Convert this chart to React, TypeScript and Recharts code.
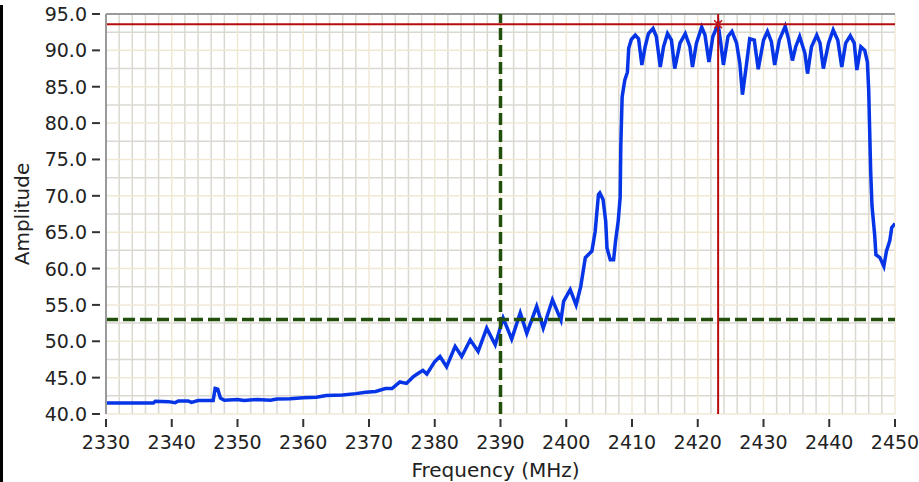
import React from 'react';
import { LineChart, Line, XAxis, YAxis, ReferenceLine, ReferenceDot } from 'recharts';

// Sweep readings: frequency in MHz, amplitude
const freqs = [
  2330, 2337.2, 2337.5, 2339.5, 2340.5, 2341, 2342.5, 2343, 2344, 2346.3,
  2346.6, 2347.0, 2347.4, 2348, 2350, 2351, 2353, 2355, 2356, 2358,
  2360, 2362, 2363.5, 2366, 2368, 2369.5, 2371, 2372.5, 2373.5, 2374.7,
  2375.7, 2376.7, 2377.5, 2378.2, 2378.8, 2380.0, 2380.8, 2381.8, 2383.1, 2384.1,
  2385.4, 2386.6, 2387.9, 2389.2, 2390.4, 2391.7, 2393.0, 2394.0, 2395.5, 2396.5,
  2397.9, 2399.2, 2399.6, 2400.6, 2401.5, 2402.2, 2402.9, 2403.9, 2404.4, 2404.9,
  2405.1, 2405.6, 2406.0, 2406.2, 2406.7, 2407.2, 2407.5, 2407.9, 2408.2, 2408.3,
  2408.5, 2408.9, 2409.3, 2409.5, 2409.9, 2410.5, 2411.0, 2411.5, 2412.0, 2412.5,
  2413.2, 2413.7, 2414.3, 2414.8, 2415.4, 2416.0, 2416.5, 2417.3, 2418.1, 2418.8,
  2419.2, 2419.8, 2420.6, 2421.1, 2421.7, 2422.3, 2423.1, 2423.5, 2423.9, 2424.6,
  2425.2, 2425.9, 2426.4, 2426.8, 2427.4, 2427.9, 2428.6, 2429.2, 2430.0, 2430.6,
  2431.2, 2431.7, 2432.4, 2433.3, 2433.8, 2434.4, 2434.9, 2435.5, 2436.3, 2436.7,
  2437.3, 2438.1, 2438.6, 2439.1, 2439.9, 2440.6, 2441.3, 2441.9, 2442.5, 2443.2,
  2443.8, 2444.2, 2444.8, 2445.4, 2445.8, 2446.0, 2446.3, 2446.5, 2446.9, 2447.1,
  2447.7, 2448.3, 2448.7, 2449.2, 2449.5, 2450.0,
];

const amps = [
  41.5, 41.5, 41.75, 41.7, 41.55, 41.8, 41.8, 41.6, 41.85, 41.85,
  43.5, 43.4, 42.2, 41.9, 42.0, 41.85, 42.0, 41.9, 42.05, 42.1,
  42.25, 42.3, 42.55, 42.6, 42.8, 43.0, 43.1, 43.5, 43.5, 44.4,
  44.2, 45.1, 45.6, 46.0, 45.5, 47.2, 47.9, 46.5, 49.3, 47.9,
  50.2, 48.6, 51.8, 49.5, 53.2, 50.3, 53.9, 51.1, 54.8, 51.8,
  55.7, 52.9, 55.5, 57.1, 55.0, 57.5, 61.5, 62.4, 65.1, 70.2,
  70.4, 69.5, 66.5, 62.8, 61.2, 61.2, 63.8, 66.5, 69.8, 77.0,
  83.6, 85.9, 87.0, 90.3, 91.5, 92.1, 91.6, 88.0, 90.5, 92.3,
  93.0, 91.9, 87.7, 90.5, 92.3, 91.4, 87.5, 91.0, 92.3, 90.5,
  87.7, 91.0, 93.2, 92.1, 88.4, 91.9, 93.6, 91.0, 88.0, 91.9,
  92.6, 91.0, 88.2, 83.9, 88.0, 91.6, 91.4, 87.4, 91.4, 92.6,
  91.2, 88.0, 91.4, 93.3, 91.6, 88.6, 90.5, 91.9, 89.6, 86.8,
  90.5, 92.1, 91.0, 87.5, 91.0, 92.8, 91.4, 87.7, 91.0, 92.0,
  91.0, 87.3, 90.5, 90.0, 88.4, 84.5, 73.4, 68.6, 64.7, 61.9,
  61.5, 60.3, 62.4, 63.8, 65.6, 66.2,
];

const xTicks = [2330, 2340, 2350, 2360, 2370, 2380, 2390, 2400, 2410, 2420, 2430, 2440, 2450];
const yTicks = [40, 45, 50, 55, 60, 65, 70, 75, 80, 85, 90, 95];

// grid: beige on the labelled values, grey in between
const yMinorGrid = [42.5, 47.5, 52.5, 57.5, 62.5, 67.5, 72.5, 77.5, 82.5, 87.5, 92.5];
const xGridAll = Array.from({ length: 61 }, (_, i) => 2330 + i * 2);
const xMinorGrid = xGridAll.filter((f) => f % 10 !== 0);

// cursors
const cursor1 = { freq: 2390, amp: 53.0 };
const cursor2 = { freq: 2423.1, amp: 93.6 };

const data = freqs.map((f, i) => ({ freq: f, amp: amps[i] }));

const FONT = '"DejaVu Sans", Verdana, sans-serif';
const TEXT = '#222';
const GRID_MAJOR = '#efe9d4';
const GRID_MINOR = '#dbd8d1';

const YTick = ({ x, y, payload }: any) => (
  <g>
    <line x1={x - 14} x2={x - 6} y1={y} y2={y} stroke="#333" strokeWidth={2} />
    <text x={x - 19} y={y} textAnchor="end" dominantBaseline="central" fill={TEXT} fontSize={19} fontFamily={FONT}>
      {Number(payload.value).toFixed(1)}
    </text>
  </g>
);

const XTick = ({ x, y, payload }: any) => (
  <g>
    <line x1={x} x2={x} y1={y + 5} y2={y + 13} stroke="#333" strokeWidth={2} />
    <text x={x} y={y + 35} textAnchor="middle" fill={TEXT} fontSize={19} fontFamily={FONT}>
      {payload.value}
    </text>
  </g>
);

const YTitle = ({ viewBox }: any) => {
  const cx = viewBox.x + 22;
  const cy = viewBox.y + viewBox.height / 2;
  return (
    <text x={cx} y={cy} transform={`rotate(-90, ${cx}, ${cy})`} textAnchor="middle" dominantBaseline="central"
      fill={TEXT} fontSize={20} fontFamily={FONT}>
      Amplitude
    </text>
  );
};

const XTitle = ({ viewBox }: any) => (
  <text x={viewBox.x + viewBox.width / 2 - 5} y={viewBox.y + 63} textAnchor="middle" fill={TEXT} fontSize={20} fontFamily={FONT}>
    Frequency (MHz)
  </text>
);

const CrossMark = ({ cx, cy }: any) => (
  <path d={`M${cx - 4},${cy - 4}L${cx + 4},${cy + 4}M${cx + 4},${cy - 4}L${cx - 4},${cy + 4}`} stroke="#c01818" strokeWidth={1.5} fill="none" />
);

export default function App() {
  return (
    <div style={{ position: 'absolute', left: 0, top: 0, width: 919, height: 482, background: '#fff' }}>
      <div style={{ position: 'absolute', left: 0, top: 5, width: 3, height: 477, background: '#000' }} />
      <LineChart width={919} height={482} data={data} margin={{ top: 14, right: 24, left: 0, bottom: 0 }}>
        <XAxis
          dataKey="freq"
          type="number"
          domain={[2330, 2450]}
          ticks={xTicks}
          allowDataOverflow
          height={68}
          axisLine={false}
          tickLine={false}
          tickSize={0}
          tickMargin={0}
          tick={<XTick />}
          label={<XTitle />}
        />
        <YAxis
          type="number"
          domain={[40, 95]}
          ticks={yTicks}
          allowDataOverflow
          width={106}
          axisLine={{ stroke: '#9a9a9a', strokeWidth: 2 }}
          tickLine={false}
          tickSize={0}
          tickMargin={0}
          tick={<YTick />}
          label={<YTitle />}
        />
        {yMinorGrid.map((v) => (
          <ReferenceLine key={`ym${v}`} y={v} stroke={GRID_MINOR} strokeWidth={1.5} />
        ))}
        {xMinorGrid.map((v) => (
          <ReferenceLine key={`xm${v}`} x={v} stroke={GRID_MINOR} strokeWidth={1.5} />
        ))}
        {yTicks.map((v) => (
          <ReferenceLine key={`yM${v}`} y={v} stroke={GRID_MAJOR} strokeWidth={1.5} />
        ))}
        {xTicks.map((v) => (
          <ReferenceLine key={`xM${v}`} x={v} stroke={GRID_MAJOR} strokeWidth={1.5} />
        ))}
        <ReferenceLine y={95} stroke="#9a9a9a" strokeWidth={2} />
        <Line type="linear" dataKey="amp" stroke="#0535e6" strokeWidth={3.5} dot={false} isAnimationActive={false} />
        <ReferenceLine y={cursor1.amp} stroke="#22500c" strokeWidth={3.5} strokeDasharray="12 5" />
        <ReferenceLine x={cursor1.freq} stroke="#22500c" strokeWidth={3.5} strokeDasharray="12 5" />
        <ReferenceLine y={cursor2.amp} stroke="#b80c0c" strokeWidth={2} />
        <ReferenceLine x={cursor2.freq} stroke="#b80c0c" strokeWidth={2} />
        <ReferenceDot x={cursor2.freq} y={cursor2.amp} shape={<CrossMark />} />
      </LineChart>
    </div>
  );
}
